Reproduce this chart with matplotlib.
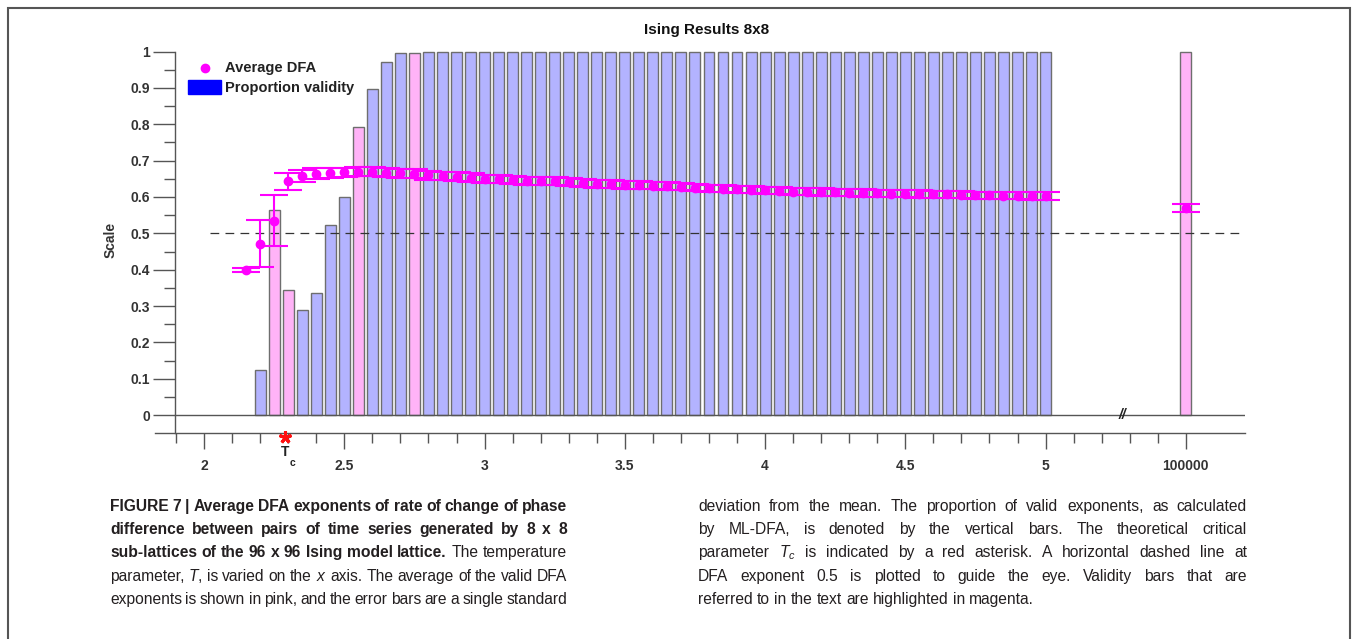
import matplotlib
matplotlib.use('Agg')
import matplotlib.pyplot as plt
from matplotlib.patches import Rectangle
from matplotlib.lines import Line2D

# temperatures of the DFA averages (last one is T = 100000, drawn after the axis break)
dfa_temps = [2.15, 2.2, 2.25, 2.3, 2.35, 2.4, 2.45, 2.5, 2.55, 2.6, 2.65, 2.7, 2.75,
             2.8, 2.85, 2.9, 2.95, 3.0, 3.05, 3.1, 3.15, 3.2, 3.25, 3.3, 3.35, 3.4,
             3.45, 3.5, 3.55, 3.6, 3.65, 3.7, 3.75, 3.8, 3.85, 3.9, 3.95, 4.0, 4.05,
             4.1, 4.15, 4.2, 4.25, 4.3, 4.35, 4.4, 4.45, 4.5, 4.55, 4.6, 4.65, 4.7,
             4.75, 4.8, 4.85, 4.9, 4.95, 5.0, 100000]
dfa_mean = [0.400, 0.472, 0.535, 0.643, 0.657, 0.664, 0.666, 0.668, 0.670, 0.670,
            0.667, 0.665, 0.664, 0.660, 0.658, 0.656, 0.653, 0.650, 0.649, 0.647,
            0.645, 0.645, 0.643, 0.640, 0.639, 0.637, 0.636, 0.634, 0.632, 0.631,
            0.630, 0.628, 0.626, 0.624, 0.623, 0.621, 0.620, 0.618, 0.617, 0.615,
            0.615, 0.614, 0.613, 0.612, 0.611, 0.610, 0.609, 0.609, 0.608, 0.607,
            0.607, 0.606, 0.605, 0.605, 0.604, 0.604, 0.603, 0.603, 0.569]
dfa_std = [0.005, 0.064, 0.071, 0.024, 0.017, 0.015, 0.014, 0.013, 0.013, 0.013,
           0.012, 0.012, 0.012, 0.012, 0.012, 0.012, 0.012, 0.011, 0.011, 0.011,
           0.011, 0.011, 0.011, 0.011, 0.011, 0.011, 0.011, 0.011, 0.011, 0.010,
           0.010, 0.010, 0.010, 0.010, 0.010, 0.010, 0.010, 0.010, 0.010, 0.010,
           0.010, 0.010, 0.010, 0.010, 0.010, 0.010, 0.010, 0.010, 0.010, 0.010,
           0.010, 0.010, 0.010, 0.010, 0.010, 0.010, 0.010, 0.010, 0.011]

# proportion of valid exponents
bar_temps = dfa_temps[1:]
bar_valid = [0.125, 0.565, 0.343, 0.290, 0.335, 0.524, 0.600, 0.792, 0.896, 0.971,
             0.996, 0.997] + [1.0] * 46
highlight = [2.25, 2.3, 2.55, 2.75, 100000]   # bars shown in magenta

Tc = 2.269
break_pos = 5.5   # where T = 100000 sits on the axis

W, H = 1357, 639


def xpos(t):
    return break_pos if t > 50 else t


fig = plt.figure(figsize=(W / 100, H / 100), dpi=100)
plt.rcParams['font.family'] = ['Liberation Sans', 'DejaVu Sans']
cap_font = 'Liberation Sans'
plt.rcParams['mathtext.fontset'] = 'custom'
plt.rcParams['mathtext.it'] = cap_font + ':italic'
plt.rcParams['mathtext.rm'] = cap_font

ax = fig.add_axes([155 / W, 1 - 433 / H, (1245 - 155) / W, (433 - 51.5) / H])
ax.set_xlim(1.825, 5.711)
ax.set_ylim(-0.049, 1.0)

bx = [xpos(t) for t in bar_temps]
cols = ['#ffb3f7' if t in highlight else '#b3b3ff' for t in bar_temps]
ax.bar(bx, bar_valid, width=0.039, color=cols, edgecolor='#6e6e6e', lw=1,
       zorder=2, clip_on=False)

ax.hlines(0.5, 2.02, 5.711, colors='#333333', linestyles=(0, (7, 5)), lw=0.9, zorder=3)
ax.axhline(0, xmin=(1.8966 - 1.825) / (5.711 - 1.825), color='#555555', lw=1, zorder=3)

ax.errorbar([xpos(t) for t in dfa_temps], dfa_mean, yerr=dfa_std, fmt='o',
            color='#ff00ff', ms=6, elinewidth=1.5, capsize=10, capthick=1.5, zorder=4)

# critical temperature
ax.plot([2.287], [-0.06], marker=(5, 2, 0), color='#ff1010', ms=9, mew=2.2,
        clip_on=False, zorder=5)
ax.text(2.287, -0.1, 'T', ha='center', va='center', weight='bold', size=10,
        color='#222222', clip_on=False)
ax.text(2.315, -0.131, 'c', ha='center', va='center', weight='bold', size=7.5,
        color='#222222', clip_on=False)
ax.text(5.273, 0.0, '//', ha='center', va='center', weight='bold', style='italic',
        size=10, color='#222222', zorder=5)

# axes styling
for s in ['top', 'right']:
    ax.spines[s].set_visible(False)
ax.spines['left'].set_position(('data', 1.8966))
for s in ['left', 'bottom']:
    ax.spines[s].set_color('#555555')
    ax.spines[s].set_linewidth(1)

ax.set_yticks([i / 10 for i in range(11)])
ax.set_yticklabels(['0', '0.1', '0.2', '0.3', '0.4', '0.5', '0.6', '0.7', '0.8', '0.9', '1'])
ax.set_yticks([i / 10 + 0.05 for i in range(10)], minor=True)
ax.set_xticks([2, 2.5, 3, 3.5, 4, 4.5, 5, break_pos])
ax.set_xticklabels(['2', '2.5', '3', '3.5', '4', '4.5', '5', '100000'])
ax.set_xticks([1.9 + i / 10 for i in range(36) if (i + 9) % 5 != 0 and 1.9 + i / 10 < 5.45],
              minor=True)
ax.tick_params(axis='y', which='major', length=16, width=1, color='#555555', pad=2,
               labelsize=10, labelcolor='#333333')
ax.tick_params(axis='y', which='minor', length=8, width=1, color='#555555')
ax.tick_params(axis='x', which='major', length=11.5, width=1, color='#555555', pad=7,
               labelsize=10, labelcolor='#333333')
ax.tick_params(axis='x', which='minor', length=7, width=1, color='#555555')
for lab in ax.get_xticklabels() + ax.get_yticklabels():
    lab.set_fontweight('bold')
ax.set_ylabel('Scale', weight='bold', size=10, color='#333333')
ax.yaxis.set_label_coords(118 / W, 1 - 240 / H, transform=fig.transFigure)

# title and legend
fig.text(707 / W, 1 - 30 / H, 'Ising Results 8x8', ha='center', va='center',
         weight='bold', size=11, color='#111111')
fig.add_artist(Line2D([205 / W], [1 - 68 / H], marker='o', color='#ff00ff', ms=6,
                      transform=fig.transFigure))
fig.add_artist(Rectangle((188 / W, 1 - 94 / H), 33 / W, 14 / H, color='#0000ff',
                         transform=fig.transFigure))
fig.text(225 / W, 1 - 68 / H, 'Average DFA', va='center', weight='bold', size=10.5,
         color='#222222')
fig.text(225 / W, 1 - 88 / H, 'Proportion validity', va='center', weight='bold',
         size=10.5, color='#222222')

# frame around the figure
fig.add_artist(Rectangle((8 / W, -0.1), (1350 - 8) / W, 1.1 - 8 / H, fill=False,
                         edgecolor='#555555', lw=1.5, transform=fig.transFigure))

# caption, justified
renderer = fig.canvas.get_renderer()


def caption_line(segs, x0, x1, ypx, justify=True, size=11.25):
    words = []
    for s, wt in segs:
        for w in s.split():
            words.append((w, wt))
    while True:
        ts = [fig.text(0, 1 - ypx / H, w, family=cap_font, weight=wt, size=size,
                       va='baseline', color='#231f20') for w, wt in words]
        ws = [t.get_window_extent(renderer).width for t in ts]
        em = size * 100 / 72
        if justify:
            gap = (x1 - x0 - sum(ws)) / (len(ts) - 1)
        else:
            gap = 0.27 * em
        if gap >= 0.1 * em or not justify:
            break
        for t in ts:
            t.remove()
        size -= 0.25
    x = x0
    for t, w in zip(ts, ws):
        t.set_x(x / W)
        x += w + gap


left = [
    [('FIGURE 7 | Average DFA exponents of rate of change of phase', 'bold')],
    [('difference between pairs of time series generated by 8 x 8', 'bold')],
    [('sub-lattices of the 96 x 96 Ising model lattice.', 'bold'), ('The temperature', 'normal')],
    [('parameter, $T$, is varied on the $x$ axis. The average of the valid DFA', 'normal')],
    [('exponents is shown in pink, and the error bars are a single standard', 'normal')],
]
right = [
    [('deviation from the mean. The proportion of valid exponents, as calculated', 'normal')],
    [('by ML-DFA, is denoted by the vertical bars. The theoretical critical', 'normal')],
    [('parameter $T_c$ is indicated by a red asterisk. A horizontal dashed line at', 'normal')],
    [('DFA exponent 0.5 is plotted to guide the eye. Validity bars that are', 'normal')],
    [('referred to in the text are highlighted in magenta.', 'normal')],
]
base = [511, 534, 557, 581, 604]
for i, segs in enumerate(left):
    caption_line(segs, 110, 567, base[i])
for i, segs in enumerate(right):
    caption_line(segs, 698, 1247, base[i], justify=(i < 4))

fig.savefig('out.png', dpi=100)
